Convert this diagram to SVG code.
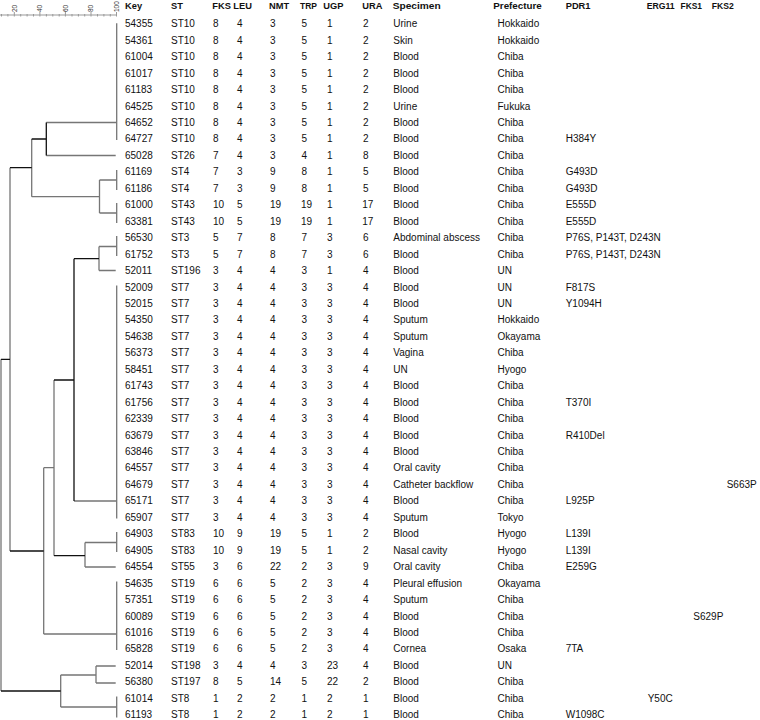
<svg xmlns="http://www.w3.org/2000/svg" width="760" height="720" viewBox="0 0 760 720">
<style>
.t{font-family:"Liberation Sans",Arial,sans-serif;font-size:10px;fill:#111}
.h{font-family:"Liberation Sans",Arial,sans-serif;font-size:9.3px;font-weight:bold;fill:#111}
.s{font-family:"Liberation Sans",Arial,sans-serif;font-size:6.5px;fill:#333}
.g{stroke:#767676;stroke-width:1.3;fill:none}
.k{stroke:#111;stroke-width:1.3;fill:none}
.sc{stroke:#999;stroke-width:1;fill:none}
</style>
<rect width="760" height="720" fill="#fff"/>
<g id="scale">
<path class="sc" d="M0 15H116.5M1.5 14V16.5M7.9 14V16.5M20.7 14V16.5M27.1 14V16.5M33.5 14V16.5M46.4 14V16.5M52.8 14V16.5M59.2 14V16.5M72.0 14V16.5M78.4 14V16.5M84.7 14V16.5M97.5 14V16.5M103.9 14V16.5M110.3 14V16.5"/>
<path class="sc" d="M14.3 12V16.5M39.9 12V16.5M65.4 12V16.5M91.0 12V16.5M116.5 12V16.5"/>
<text class="s" transform="translate(16.6 12) rotate(-90)">20</text>
<text class="s" transform="translate(42.2 12) rotate(-90)">40</text>
<text class="s" transform="translate(67.7 12) rotate(-90)">60</text>
<text class="s" transform="translate(93.3 12) rotate(-90)">80</text>
<text class="s" transform="translate(118.8 12) rotate(-90)">100</text>
</g>
<g id="dendrogram">
<path class="g" d="M116.7 23.3V140M116.7 170V190M116.7 203V223M116.7 236V256M116.7 285.5V518.5M116.7 532V552M116.7 581.5V650M116.7 696.5V717.5"/>
<path class="g" d="M46.3 122.5H116.7M46.3 155.5H115.7M31.7 196.7H99.5M99.5 180H116.7M99.5 213H116.7M99 246.5H116.7M99 270.5H115.7M74 501H116.7M85 542.5H116.7M85 567H115.7M43.7 467.7H54M43.7 634H116.7M60.7 707H116.7M96 666H115.7M96 683H115.7M60.7 675H96"/>
<path class="g" d="M31.7 139V196.7M10 167.7V551M1 359.3V691M99.5 180V213M99 246.5V270.5M54 380V555.7M43.7 467.7V634M85 542.5V567M60.7 675V707M96 666V683"/>
<path class="k" d="M46.3 122.5V155.5M31.7 139H46.3M10 167.7H31.7M1 359.3H10M10 551H43.7M54 380H74M74 258.7V501M74 258.7H99M54 555.7H85M1 691H60.7"/>
</g>
<g id="header">
<text class="h" x="125" y="9.3">Key</text>
<text class="h" x="171" y="9.3">ST</text>
<text class="h" x="212.3" y="9.3">FKS</text>
<text class="h" x="233.3" y="9.3">LEU</text>
<text class="h" x="269" y="9.3">NMT</text>
<text class="h" x="300" y="9.3" textLength="17" lengthAdjust="spacingAndGlyphs">TRP</text>
<text class="h" x="323.3" y="9.3">UGP</text>
<text class="h" x="362.3" y="9.3">URA</text>
<text class="h" x="392.7" y="9.3" textLength="48" lengthAdjust="spacingAndGlyphs">Specimen</text>
<text class="h" x="493.3" y="9.3" textLength="48.5" lengthAdjust="spacingAndGlyphs">Prefecture</text>
<text class="h" x="565.7" y="9.3">PDR1</text>
<text class="h" x="646.7" y="9.3" textLength="28" lengthAdjust="spacingAndGlyphs">ERG11</text>
<text class="h" x="680.5" y="9.3" textLength="21.5" lengthAdjust="spacingAndGlyphs">FKS1</text>
<text class="h" x="711.7" y="9.3" textLength="22" lengthAdjust="spacingAndGlyphs">FKS2</text>
</g>
<g id="rows" class="t">
<g id="r54355"><text y="27.3"><tspan x="125">54355</tspan><tspan x="171">ST10</tspan><tspan x="213">8</tspan><tspan x="237">4</tspan><tspan x="270">3</tspan><tspan x="301.5">5</tspan><tspan x="327">1</tspan><tspan x="363">2</tspan><tspan x="393.3">Urine</tspan><tspan x="497.5">Hokkaido</tspan></text></g>
<g id="r54361"><text y="43.75"><tspan x="125">54361</tspan><tspan x="171">ST10</tspan><tspan x="213">8</tspan><tspan x="237">4</tspan><tspan x="270">3</tspan><tspan x="301.5">5</tspan><tspan x="327">1</tspan><tspan x="363">2</tspan><tspan x="393.3">Skin</tspan><tspan x="497.5">Hokkaido</tspan></text></g>
<g id="r61004"><text y="60.2"><tspan x="125">61004</tspan><tspan x="171">ST10</tspan><tspan x="213">8</tspan><tspan x="237">4</tspan><tspan x="270">3</tspan><tspan x="301.5">5</tspan><tspan x="327">1</tspan><tspan x="363">2</tspan><tspan x="393.3">Blood</tspan><tspan x="497.5">Chiba</tspan></text></g>
<g id="r61017"><text y="76.65"><tspan x="125">61017</tspan><tspan x="171">ST10</tspan><tspan x="213">8</tspan><tspan x="237">4</tspan><tspan x="270">3</tspan><tspan x="301.5">5</tspan><tspan x="327">1</tspan><tspan x="363">2</tspan><tspan x="393.3">Blood</tspan><tspan x="497.5">Chiba</tspan></text></g>
<g id="r61183"><text y="93.1"><tspan x="125">61183</tspan><tspan x="171">ST10</tspan><tspan x="213">8</tspan><tspan x="237">4</tspan><tspan x="270">3</tspan><tspan x="301.5">5</tspan><tspan x="327">1</tspan><tspan x="363">2</tspan><tspan x="393.3">Blood</tspan><tspan x="497.5">Chiba</tspan></text></g>
<g id="r64525"><text y="109.55"><tspan x="125">64525</tspan><tspan x="171">ST10</tspan><tspan x="213">8</tspan><tspan x="237">4</tspan><tspan x="270">3</tspan><tspan x="301.5">5</tspan><tspan x="327">1</tspan><tspan x="363">2</tspan><tspan x="393.3">Urine</tspan><tspan x="497.5">Fukuka</tspan></text></g>
<g id="r64652"><text y="126"><tspan x="125">64652</tspan><tspan x="171">ST10</tspan><tspan x="213">8</tspan><tspan x="237">4</tspan><tspan x="270">3</tspan><tspan x="301.5">5</tspan><tspan x="327">1</tspan><tspan x="363">2</tspan><tspan x="393.3">Blood</tspan><tspan x="497.5">Chiba</tspan></text></g>
<g id="r64727"><text y="142.45"><tspan x="125">64727</tspan><tspan x="171">ST10</tspan><tspan x="213">8</tspan><tspan x="237">4</tspan><tspan x="270">3</tspan><tspan x="301.5">5</tspan><tspan x="327">1</tspan><tspan x="363">2</tspan><tspan x="393.3">Blood</tspan><tspan x="497.5">Chiba</tspan><tspan x="565.7">H384Y</tspan></text></g>
<g id="r65028"><text y="158.9"><tspan x="125">65028</tspan><tspan x="171">ST26</tspan><tspan x="213">7</tspan><tspan x="237">4</tspan><tspan x="270">3</tspan><tspan x="301.5">4</tspan><tspan x="327">1</tspan><tspan x="363">8</tspan><tspan x="393.3">Blood</tspan><tspan x="497.5">Chiba</tspan></text></g>
<g id="r61169"><text y="175.35"><tspan x="125">61169</tspan><tspan x="171">ST4</tspan><tspan x="213">7</tspan><tspan x="237">3</tspan><tspan x="270">9</tspan><tspan x="301.5">8</tspan><tspan x="327">1</tspan><tspan x="363">5</tspan><tspan x="393.3">Blood</tspan><tspan x="497.5">Chiba</tspan><tspan x="565.7">G493D</tspan></text></g>
<g id="r61186"><text y="191.8"><tspan x="125">61186</tspan><tspan x="171">ST4</tspan><tspan x="213">7</tspan><tspan x="237">3</tspan><tspan x="270">9</tspan><tspan x="301.5">8</tspan><tspan x="327">1</tspan><tspan x="363">5</tspan><tspan x="393.3">Blood</tspan><tspan x="497.5">Chiba</tspan><tspan x="565.7">G493D</tspan></text></g>
<g id="r61000"><text y="208.25"><tspan x="125">61000</tspan><tspan x="171">ST43</tspan><tspan x="213">10</tspan><tspan x="237">5</tspan><tspan x="270">19</tspan><tspan x="301">19</tspan><tspan x="327">1</tspan><tspan x="362.3">17</tspan><tspan x="393.3">Blood</tspan><tspan x="497.5">Chiba</tspan><tspan x="565.7">E555D</tspan></text></g>
<g id="r63381"><text y="224.7"><tspan x="125">63381</tspan><tspan x="171">ST43</tspan><tspan x="213">10</tspan><tspan x="237">5</tspan><tspan x="270">19</tspan><tspan x="301">19</tspan><tspan x="327">1</tspan><tspan x="362.3">17</tspan><tspan x="393.3">Blood</tspan><tspan x="497.5">Chiba</tspan><tspan x="565.7">E555D</tspan></text></g>
<g id="r56530"><text y="241.15"><tspan x="125">56530</tspan><tspan x="171">ST3</tspan><tspan x="213">5</tspan><tspan x="237">7</tspan><tspan x="270">8</tspan><tspan x="301.5">7</tspan><tspan x="327">3</tspan><tspan x="363">6</tspan><tspan x="393.3">Abdominal abscess</tspan><tspan x="497.5">Chiba</tspan><tspan x="565.7">P76S, P143T, D243N</tspan></text></g>
<g id="r61752"><text y="257.6"><tspan x="125">61752</tspan><tspan x="171">ST3</tspan><tspan x="213">5</tspan><tspan x="237">7</tspan><tspan x="270">8</tspan><tspan x="301.5">7</tspan><tspan x="327">3</tspan><tspan x="363">6</tspan><tspan x="393.3">Blood</tspan><tspan x="497.5">Chiba</tspan><tspan x="565.7">P76S, P143T, D243N</tspan></text></g>
<g id="r52011"><text y="274.05"><tspan x="125">52011</tspan><tspan x="171">ST196</tspan><tspan x="213">3</tspan><tspan x="237">4</tspan><tspan x="270">4</tspan><tspan x="301.5">3</tspan><tspan x="327">1</tspan><tspan x="363">4</tspan><tspan x="393.3">Blood</tspan><tspan x="497.5">UN</tspan></text></g>
<g id="r52009"><text y="290.5"><tspan x="125">52009</tspan><tspan x="171">ST7</tspan><tspan x="213">3</tspan><tspan x="237">4</tspan><tspan x="270">4</tspan><tspan x="301.5">3</tspan><tspan x="327">3</tspan><tspan x="363">4</tspan><tspan x="393.3">Blood</tspan><tspan x="497.5">UN</tspan><tspan x="565.7">F817S</tspan></text></g>
<g id="r52015"><text y="306.95"><tspan x="125">52015</tspan><tspan x="171">ST7</tspan><tspan x="213">3</tspan><tspan x="237">4</tspan><tspan x="270">4</tspan><tspan x="301.5">3</tspan><tspan x="327">3</tspan><tspan x="363">4</tspan><tspan x="393.3">Blood</tspan><tspan x="497.5">UN</tspan><tspan x="565.7">Y1094H</tspan></text></g>
<g id="r54350"><text y="323.4"><tspan x="125">54350</tspan><tspan x="171">ST7</tspan><tspan x="213">3</tspan><tspan x="237">4</tspan><tspan x="270">4</tspan><tspan x="301.5">3</tspan><tspan x="327">3</tspan><tspan x="363">4</tspan><tspan x="393.3">Sputum</tspan><tspan x="497.5">Hokkaido</tspan></text></g>
<g id="r54638"><text y="339.85"><tspan x="125">54638</tspan><tspan x="171">ST7</tspan><tspan x="213">3</tspan><tspan x="237">4</tspan><tspan x="270">4</tspan><tspan x="301.5">3</tspan><tspan x="327">3</tspan><tspan x="363">4</tspan><tspan x="393.3">Sputum</tspan><tspan x="497.5">Okayama</tspan></text></g>
<g id="r56373"><text y="356.3"><tspan x="125">56373</tspan><tspan x="171">ST7</tspan><tspan x="213">3</tspan><tspan x="237">4</tspan><tspan x="270">4</tspan><tspan x="301.5">3</tspan><tspan x="327">3</tspan><tspan x="363">4</tspan><tspan x="393.3">Vagina</tspan><tspan x="497.5">Chiba</tspan></text></g>
<g id="r58451"><text y="372.75"><tspan x="125">58451</tspan><tspan x="171">ST7</tspan><tspan x="213">3</tspan><tspan x="237">4</tspan><tspan x="270">4</tspan><tspan x="301.5">3</tspan><tspan x="327">3</tspan><tspan x="363">4</tspan><tspan x="393.3">UN</tspan><tspan x="497.5">Hyogo</tspan></text></g>
<g id="r61743"><text y="389.2"><tspan x="125">61743</tspan><tspan x="171">ST7</tspan><tspan x="213">3</tspan><tspan x="237">4</tspan><tspan x="270">4</tspan><tspan x="301.5">3</tspan><tspan x="327">3</tspan><tspan x="363">4</tspan><tspan x="393.3">Blood</tspan><tspan x="497.5">Chiba</tspan></text></g>
<g id="r61756"><text y="405.65"><tspan x="125">61756</tspan><tspan x="171">ST7</tspan><tspan x="213">3</tspan><tspan x="237">4</tspan><tspan x="270">4</tspan><tspan x="301.5">3</tspan><tspan x="327">3</tspan><tspan x="363">4</tspan><tspan x="393.3">Blood</tspan><tspan x="497.5">Chiba</tspan><tspan x="565.7">T370I</tspan></text></g>
<g id="r62339"><text y="422.1"><tspan x="125">62339</tspan><tspan x="171">ST7</tspan><tspan x="213">3</tspan><tspan x="237">4</tspan><tspan x="270">4</tspan><tspan x="301.5">3</tspan><tspan x="327">3</tspan><tspan x="363">4</tspan><tspan x="393.3">Blood</tspan><tspan x="497.5">Chiba</tspan></text></g>
<g id="r63679"><text y="438.55"><tspan x="125">63679</tspan><tspan x="171">ST7</tspan><tspan x="213">3</tspan><tspan x="237">4</tspan><tspan x="270">4</tspan><tspan x="301.5">3</tspan><tspan x="327">3</tspan><tspan x="363">4</tspan><tspan x="393.3">Blood</tspan><tspan x="497.5">Chiba</tspan><tspan x="565.7">R410Del</tspan></text></g>
<g id="r63846"><text y="455"><tspan x="125">63846</tspan><tspan x="171">ST7</tspan><tspan x="213">3</tspan><tspan x="237">4</tspan><tspan x="270">4</tspan><tspan x="301.5">3</tspan><tspan x="327">3</tspan><tspan x="363">4</tspan><tspan x="393.3">Blood</tspan><tspan x="497.5">Chiba</tspan></text></g>
<g id="r64557"><text y="471.45"><tspan x="125">64557</tspan><tspan x="171">ST7</tspan><tspan x="213">3</tspan><tspan x="237">4</tspan><tspan x="270">4</tspan><tspan x="301.5">3</tspan><tspan x="327">3</tspan><tspan x="363">4</tspan><tspan x="393.3">Oral cavity</tspan><tspan x="497.5">Chiba</tspan></text></g>
<g id="r64679"><text y="487.9"><tspan x="125">64679</tspan><tspan x="171">ST7</tspan><tspan x="213">3</tspan><tspan x="237">4</tspan><tspan x="270">4</tspan><tspan x="301.5">3</tspan><tspan x="327">3</tspan><tspan x="363">4</tspan><tspan x="393.3">Catheter backflow</tspan><tspan x="497.5">Chiba</tspan><tspan x="726.7">S663P</tspan></text></g>
<g id="r65171"><text y="504.35"><tspan x="125">65171</tspan><tspan x="171">ST7</tspan><tspan x="213">3</tspan><tspan x="237">4</tspan><tspan x="270">4</tspan><tspan x="301.5">3</tspan><tspan x="327">3</tspan><tspan x="363">4</tspan><tspan x="393.3">Blood</tspan><tspan x="497.5">Chiba</tspan><tspan x="565.7">L925P</tspan></text></g>
<g id="r65907"><text y="520.8"><tspan x="125">65907</tspan><tspan x="171">ST7</tspan><tspan x="213">3</tspan><tspan x="237">4</tspan><tspan x="270">4</tspan><tspan x="301.5">3</tspan><tspan x="327">3</tspan><tspan x="363">4</tspan><tspan x="393.3">Sputum</tspan><tspan x="497.5">Tokyo</tspan></text></g>
<g id="r64903"><text y="537.25"><tspan x="125">64903</tspan><tspan x="171">ST83</tspan><tspan x="213">10</tspan><tspan x="237">9</tspan><tspan x="270">19</tspan><tspan x="301.5">5</tspan><tspan x="327">1</tspan><tspan x="363">2</tspan><tspan x="393.3">Blood</tspan><tspan x="497.5">Hyogo</tspan><tspan x="565.7">L139I</tspan></text></g>
<g id="r64905"><text y="553.7"><tspan x="125">64905</tspan><tspan x="171">ST83</tspan><tspan x="213">10</tspan><tspan x="237">9</tspan><tspan x="270">19</tspan><tspan x="301.5">5</tspan><tspan x="327">1</tspan><tspan x="363">2</tspan><tspan x="393.3">Nasal cavity</tspan><tspan x="497.5">Hyogo</tspan><tspan x="565.7">L139I</tspan></text></g>
<g id="r64554"><text y="570.15"><tspan x="125">64554</tspan><tspan x="171">ST55</tspan><tspan x="213">3</tspan><tspan x="237">6</tspan><tspan x="270">22</tspan><tspan x="301.5">2</tspan><tspan x="327">3</tspan><tspan x="363">9</tspan><tspan x="393.3">Oral cavity</tspan><tspan x="497.5">Chiba</tspan><tspan x="565.7">E259G</tspan></text></g>
<g id="r54635"><text y="586.6"><tspan x="125">54635</tspan><tspan x="171">ST19</tspan><tspan x="213">6</tspan><tspan x="237">6</tspan><tspan x="270">5</tspan><tspan x="301.5">2</tspan><tspan x="327">3</tspan><tspan x="363">4</tspan><tspan x="393.3">Pleural effusion</tspan><tspan x="497.5">Okayama</tspan></text></g>
<g id="r57351"><text y="603.05"><tspan x="125">57351</tspan><tspan x="171">ST19</tspan><tspan x="213">6</tspan><tspan x="237">6</tspan><tspan x="270">5</tspan><tspan x="301.5">2</tspan><tspan x="327">3</tspan><tspan x="363">4</tspan><tspan x="393.3">Sputum</tspan><tspan x="497.5">Chiba</tspan></text></g>
<g id="r60089"><text y="619.5"><tspan x="125">60089</tspan><tspan x="171">ST19</tspan><tspan x="213">6</tspan><tspan x="237">6</tspan><tspan x="270">5</tspan><tspan x="301.5">2</tspan><tspan x="327">3</tspan><tspan x="363">4</tspan><tspan x="393.3">Blood</tspan><tspan x="497.5">Chiba</tspan><tspan x="693.3">S629P</tspan></text></g>
<g id="r61016"><text y="635.95"><tspan x="125">61016</tspan><tspan x="171">ST19</tspan><tspan x="213">6</tspan><tspan x="237">6</tspan><tspan x="270">5</tspan><tspan x="301.5">2</tspan><tspan x="327">3</tspan><tspan x="363">4</tspan><tspan x="393.3">Blood</tspan><tspan x="497.5">Chiba</tspan></text></g>
<g id="r65828"><text y="652.4"><tspan x="125">65828</tspan><tspan x="171">ST19</tspan><tspan x="213">6</tspan><tspan x="237">6</tspan><tspan x="270">5</tspan><tspan x="301.5">2</tspan><tspan x="327">3</tspan><tspan x="363">4</tspan><tspan x="393.3">Cornea</tspan><tspan x="497.5">Osaka</tspan><tspan x="565.7">7TA</tspan></text></g>
<g id="r52014"><text y="668.85"><tspan x="125">52014</tspan><tspan x="171">ST198</tspan><tspan x="213">3</tspan><tspan x="237">4</tspan><tspan x="270">4</tspan><tspan x="301.5">3</tspan><tspan x="327">23</tspan><tspan x="363">4</tspan><tspan x="393.3">Blood</tspan><tspan x="497.5">UN</tspan></text></g>
<g id="r56380"><text y="685.3"><tspan x="125">56380</tspan><tspan x="171">ST197</tspan><tspan x="213">8</tspan><tspan x="237">5</tspan><tspan x="270">14</tspan><tspan x="301.5">5</tspan><tspan x="327">22</tspan><tspan x="363">2</tspan><tspan x="393.3">Blood</tspan><tspan x="497.5">Chiba</tspan></text></g>
<g id="r61014"><text y="701.75"><tspan x="125">61014</tspan><tspan x="171">ST8</tspan><tspan x="213">1</tspan><tspan x="237">2</tspan><tspan x="270">2</tspan><tspan x="301.5">1</tspan><tspan x="327">2</tspan><tspan x="363">1</tspan><tspan x="393.3">Blood</tspan><tspan x="497.5">Chiba</tspan><tspan x="647.7">Y50C</tspan></text></g>
<g id="r61193"><text y="718.2"><tspan x="125">61193</tspan><tspan x="171">ST8</tspan><tspan x="213">1</tspan><tspan x="237">2</tspan><tspan x="270">2</tspan><tspan x="301.5">1</tspan><tspan x="327">2</tspan><tspan x="363">1</tspan><tspan x="393.3">Blood</tspan><tspan x="497.5">Chiba</tspan><tspan x="565.7">W1098C</tspan></text></g>
</g>
</svg>
